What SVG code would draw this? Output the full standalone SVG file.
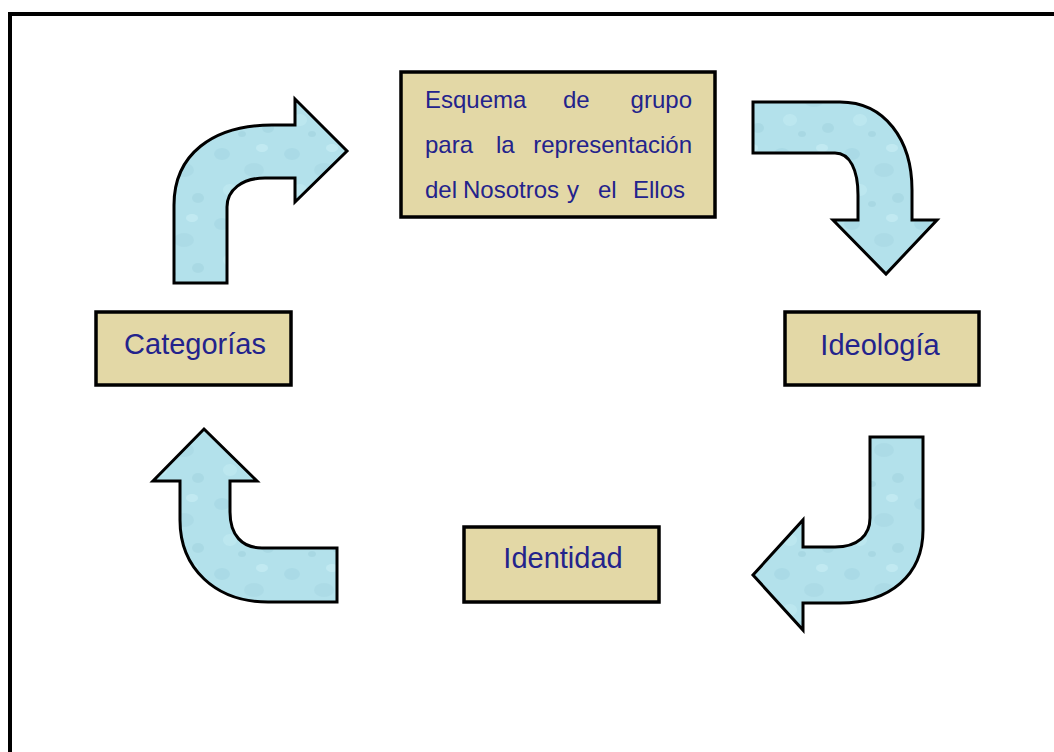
<svg xmlns="http://www.w3.org/2000/svg" width="1054" height="752" viewBox="0 0 1054 752">
  <defs>
    <pattern id="drops" patternUnits="userSpaceOnUse" width="70" height="70">
      <rect width="70" height="70" fill="#b3e1eb"/>
      <ellipse cx="12" cy="14" rx="8" ry="6" fill="#98cddb" opacity="0.35"/>
      <ellipse cx="44" cy="30" rx="10" ry="7" fill="#9ccfdc" opacity="0.3"/>
      <ellipse cx="52" cy="8" rx="6" ry="4" fill="#d0f1f7" opacity="0.5"/>
      <ellipse cx="20" cy="50" rx="7" ry="6" fill="#c6edf4" opacity="0.5"/>
      <ellipse cx="58" cy="58" rx="6" ry="5" fill="#93c7d5" opacity="0.3"/>
      <ellipse cx="32" cy="64" rx="4" ry="3" fill="#8fc4d3" opacity="0.3"/>
    </pattern>
    <style>
      .arrow { fill: url(#drops); stroke: #000; stroke-width: 3; stroke-linejoin: miter; }
      .box { fill: #e3d8a6; stroke: #000; stroke-width: 3.5; }
      .lbl { font-family: "Liberation Sans", Arial, sans-serif; fill: #23238c; }
    </style>
  </defs>

  <rect x="0" y="0" width="1054" height="752" fill="#fff"/>
  <g id="frame">
    <path d="M10,752 V14 H1054" fill="none" stroke="#000" stroke-width="4"/>
  </g>

  <g id="connectors">
    <path class="arrow" d="M174,283 V205 C174,155 212,125 272,125 H295 V99 L347,151 L295,202 V178 H265 C242,178 227,190 227,207 V283 Z"/>
    <path class="arrow" d="M753,102 H840 C885,102 912,140 912,190 V220 H937 L886,274 L833,220 H858 V195 C858,170 850,153 835,153 H753 Z"/>
    <path class="arrow" d="M870,437 H923 V530 C923,575 890,603 840,603 H803 V630 L753,575 L803,520 V547 H835 C858,547 870,535 870,518 Z"/>
    <path class="arrow" d="M204,429 L257,481 H230 V512 C230,535 242,548 262,548 H337 V602 H268 C215,602 180,568 180,520 V481 H153 Z"/>
  </g>

  <g id="node-esquema">
    <rect class="box" x="401" y="72" width="314" height="145"/>
    <g class="lbl" font-size="24">
      <text x="425" y="108">Esquema</text>
      <text x="563" y="108">de</text>
      <text x="692" y="108" text-anchor="end">grupo</text>
      <text x="425" y="153">para</text>
      <text x="496" y="153">la</text>
      <text x="692" y="153" text-anchor="end">representación</text>
      <text x="425" y="198">del</text>
      <text x="463" y="198">Nosotros</text>
      <text x="567" y="198">y</text>
      <text x="598" y="198">el</text>
      <text x="633" y="198">Ellos</text>
    </g>
  </g>

  <g id="node-categorias">
    <rect class="box" x="96" y="312" width="195" height="73"/>
    <text class="lbl" x="195" y="354" font-size="29" text-anchor="middle">Categorías</text>
  </g>

  <g id="node-ideologia">
    <rect class="box" x="785" y="312" width="194" height="73"/>
    <text class="lbl" x="880" y="355" font-size="29" text-anchor="middle">Ideología</text>
  </g>

  <g id="node-identidad">
    <rect class="box" x="464" y="527" width="195" height="75"/>
    <text class="lbl" x="563" y="568" font-size="29" text-anchor="middle">Identidad</text>
  </g>
</svg>
